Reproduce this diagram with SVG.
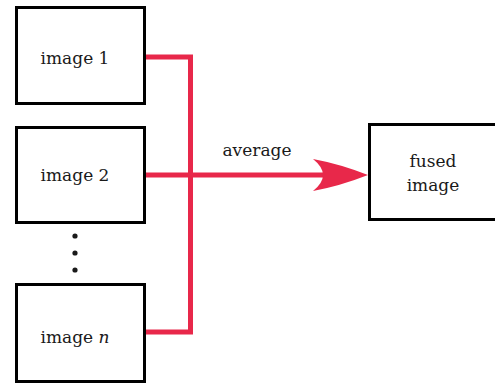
<svg xmlns="http://www.w3.org/2000/svg" width="495" height="383" viewBox="0 0 495 383">
<style>
.box{fill:#fff;stroke:#000;stroke-width:3}
.t{font-family:"DejaVu Serif","Liberation Serif",serif;font-size:17px;fill:#1a1a1a;text-anchor:middle}
.red{fill:none;stroke:#E8284A;stroke-width:5}
</style>
<rect width="495" height="383" fill="#fff"/>
<g id="connectors">
<polyline class="red" points="146,57 190.5,57 190.5,332 146,332"/>
<line class="red" x1="146" y1="175" x2="335" y2="175"/>
<path d="M368,175 Q340,164 313,159 Q333,175 313,191 Q340,186 368,175 Z" fill="#E8284A"/>
<text class="t" x="257" y="156">average</text>
</g>
<g id="image1"><rect class="box" x="16.5" y="7.5" width="128" height="96"/><text class="t" x="75" y="64">image 1</text></g>
<g id="image2"><rect class="box" x="16.5" y="127.5" width="128" height="95"/><text class="t" x="75" y="181">image 2</text></g>
<g id="dots"><circle cx="75" cy="236" r="2.6" fill="#1a1a1a"/><circle cx="75" cy="253" r="2.6" fill="#1a1a1a"/><circle cx="75" cy="270" r="2.6" fill="#1a1a1a"/></g>
<g id="imagen"><rect class="box" x="16.5" y="284.5" width="128" height="97"/><text class="t" x="75" y="343">image <tspan font-style="italic">n</tspan></text></g>
<g id="fused"><rect class="box" x="369.5" y="124.5" width="135" height="95"/><text class="t" x="433" y="167">fused</text><text class="t" x="433" y="191">image</text></g>
</svg>
